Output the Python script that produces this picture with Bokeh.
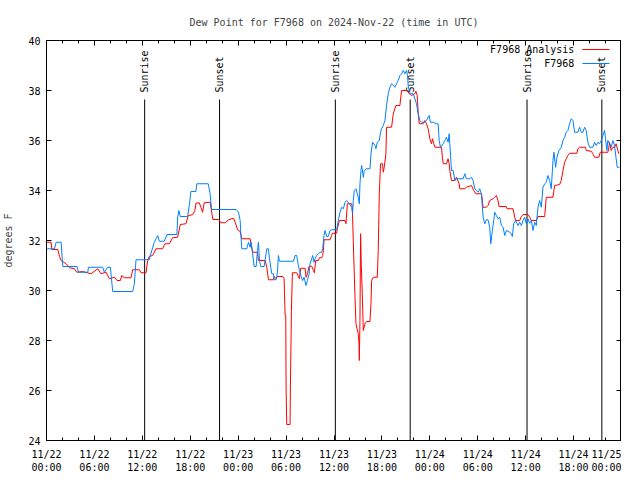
import math
from bokeh.plotting import figure
from bokeh.models import Range1d, LinearAxis, FixedTicker, Label
from bokeh.core.properties import value
from bokeh.embed import file_html
from bokeh.resources import INLINE

TITLE = "Dew Point for F7968 on 2024-Nov-22 (time in UTC)"
FONT = "DejaVu Sans Mono"

# hours since 2024-11-22 00:00 UTC
analysis_hours = [0.08, 0.58, 0.67, 1.42, 1.63, 1.83, 2.46, 2.88, 3.5, 3.79, 4.54, 5.58, 6.42, 6.83, 7.46, 7.88,
                  8.5, 8.83, 9.25, 9.42, 9.75, 10.58, 10.79, 11.63, 11.83, 12.46, 12.67, 12.88, 13.29, 13.71, 14.54,
                  14.83, 15.38, 15.79, 16.42, 16.75, 17.46, 17.75, 18.29, 18.58, 18.71, 19.13, 19.33, 19.54, 19.75,
                  20.5, 20.71, 20.83, 21.54, 21.83, 22.38, 22.79, 23.42, 23.63, 23.92, 24.25, 24.46, 25.5, 25.58,
                  25.83, 26.42, 26.54, 27.38, 27.58, 27.79, 28.42, 28.5, 28.75, 28.92, 29.58, 29.75, 29.88, 29.96,
                  30.0, 30.08, 30.5, 30.54, 30.67, 30.79, 31.33, 31.54, 31.67, 31.83, 32.38, 32.5, 32.67, 32.88,
                  33.21, 33.42, 33.54, 33.71, 34.04, 34.17, 34.46, 34.58, 34.67, 34.75, 35.5, 35.71, 35.79, 36.33,
                  36.42, 36.67, 37.38, 37.5, 37.67, 38.21, 38.29, 38.42, 38.63, 38.75, 39.04, 39.13, 39.17, 39.25,
                  39.33, 39.42, 39.54, 39.67, 39.88, 40.08, 40.5, 40.63, 40.71, 40.92, 41.42, 41.54, 41.67, 41.83,
                  42.08, 42.17, 42.29, 42.5, 42.58, 43.21, 43.42, 43.75, 44.25, 44.46, 45.17, 45.42, 45.71, 46.13,
                  46.25, 46.42, 46.54, 46.67, 47.17, 47.38, 47.58, 47.79, 48.0, 48.21, 48.33, 48.5, 48.63, 49.46,
                  49.58, 49.67, 50.08, 50.29, 50.42, 50.5, 50.71, 51.13, 51.33, 51.67, 51.75, 52.38, 52.58, 53.21,
                  53.5, 53.75, 54.46, 54.58, 54.67, 55.08, 55.29, 55.5, 55.92, 56.33, 56.54, 56.67, 57.58, 57.67,
                  58.42, 58.63, 58.75, 59.25, 59.46, 59.67, 60.29, 60.5, 60.71, 61.33, 61.54, 62.38, 62.58, 63.42,
                  63.63, 64.25, 64.46, 64.67, 64.88, 65.08, 65.29, 65.5, 66.42, 66.54, 66.75, 67.5, 67.58, 68.21,
                  68.42, 68.63, 69.17, 69.33, 70.29, 70.42, 70.5, 70.71, 70.92, 71.13, 71.33, 71.54, 71.67]
analysis_values = [31.93, 31.93, 31.64, 31.64, 31.36, 31.2, 31.07, 30.91, 30.87, 30.73, 30.76, 30.67, 30.87, 30.67,
                   30.73, 30.47, 30.53, 30.4, 30.4, 30.6, 30.51, 30.51, 30.83, 30.83, 30.71, 30.71, 31.2, 31.37,
                   31.4, 31.67, 31.67, 31.87, 31.87, 32.11, 32.13, 32.64, 32.67, 33.0, 33.03, 33.2, 33.49, 33.51,
                   33.33, 33.13, 33.51, 33.53, 33.07, 32.84, 32.84, 32.71, 32.71, 32.83, 32.89, 32.73, 32.43, 32.36,
                   32.07, 32.07, 31.89, 31.53, 31.53, 31.2, 31.2, 30.93, 30.43, 30.43, 30.56, 30.47, 30.56, 30.56,
                   30.47, 29.0, 29.0, 26.13, 24.64, 24.64, 26.13, 29.2, 30.71, 30.71, 30.56, 30.47, 30.89, 30.89,
                   30.53, 30.67, 30.97, 30.97, 30.8, 30.71, 31.2, 31.2, 31.31, 31.31, 31.4, 31.6, 32.03, 32.03, 32.2,
                   32.29, 32.29, 32.47, 32.8, 32.8, 32.67, 33.47, 33.47, 33.33, 31.93, 29.73, 28.67, 28.27, 27.87,
                   27.2, 28.8, 32.27, 31.0, 29.87, 28.4, 28.67, 28.76, 28.76, 29.47, 30.4, 30.53, 30.53, 31.6, 33.87,
                   35.07, 35.07, 34.73, 34.93, 35.47, 36.53, 36.53, 37.07, 37.4, 37.4, 38.0, 38.0, 37.87, 37.8, 37.87,
                   37.97, 37.8, 37.13, 36.67, 36.67, 36.8, 36.67, 36.47, 36.07, 35.87, 36.07, 35.87, 35.73, 35.73,
                   35.33, 35.07, 35.07, 35.27, 35.07, 34.8, 34.4, 34.4, 34.53, 34.27, 34.07, 34.07, 34.13, 34.2, 34.0,
                   33.87, 33.87, 33.6, 33.33, 33.33, 33.4, 33.6, 33.67, 33.8, 33.6, 33.36, 33.36, 33.27, 33.27, 32.93,
                   32.8, 32.8, 32.96, 33.04, 33.04, 32.93, 32.8, 32.8, 32.96, 32.96, 33.73, 33.73, 34.2, 34.24, 34.4,
                   34.8, 35.13, 35.27, 35.4, 35.49, 35.49, 35.67, 35.73, 35.73, 35.6, 35.57, 35.47, 35.33, 35.33,
                   35.53, 35.53, 35.73, 35.93, 35.6, 35.73, 35.73, 35.87, 35.6, 35.47]

station_hours = [0.08, 1.0, 1.21, 1.83, 2.04, 3.83, 4.0, 5.17, 5.25, 7.04, 7.25, 7.67, 8.0, 8.29, 10.79, 11.0, 11.21,
                 12.88, 13.0, 13.5, 13.92, 14.13, 14.75, 15.08, 16.33, 16.42, 16.58, 16.75, 17.67, 17.88, 18.08,
                 18.71, 18.83, 20.25, 20.46, 20.67, 23.75, 24.04, 24.25, 24.33, 24.46, 25.08, 25.29, 25.5, 25.63,
                 25.79, 26.0, 26.25, 26.42, 26.54, 26.67, 26.83, 27.25, 27.42, 27.58, 27.79, 27.92, 28.08, 28.21,
                 28.42, 28.5, 28.75, 28.92, 29.04, 29.17, 30.92, 31.13, 31.33, 31.54, 31.67, 31.88, 32.08, 32.25,
                 32.5, 32.67, 32.88, 33.0, 33.21, 33.33, 33.5, 33.63, 33.83, 34.04, 34.25, 34.46, 34.58, 34.75,
                 34.88, 35.08, 35.29, 35.5, 35.71, 36.33, 36.54, 36.75, 36.96, 37.17, 37.38, 37.58, 37.92, 38.21,
                 38.33, 38.42, 38.54, 38.75, 38.92, 39.04, 39.17, 39.25, 39.38, 39.46, 39.67, 39.79, 40.08, 40.5,
                 40.63, 40.83, 41.13, 41.25, 41.42, 41.67, 41.83, 41.96, 42.17, 42.38, 42.58, 42.79, 43.0, 43.21,
                 43.42, 43.63, 43.83, 44.04, 44.25, 44.46, 44.67, 44.88, 45.08, 45.21, 45.29, 45.5, 45.92, 46.13,
                 46.33, 46.54, 46.75, 46.96, 47.38, 47.58, 47.79, 47.92, 48.08, 48.42, 48.83, 49.04, 49.17, 49.33,
                 49.67, 49.88, 50.08, 50.29, 50.42, 50.5, 50.71, 50.92, 51.13, 51.33, 52.17, 52.38, 52.58, 53.0,
                 53.21, 53.42, 53.63, 53.83, 54.04, 54.25, 54.46, 54.67, 54.88, 55.08, 55.29, 55.5, 55.63, 55.83,
                 56.0, 56.13, 56.33, 56.54, 56.75, 56.96, 57.17, 57.38, 57.58, 58.0, 58.21, 58.33, 58.5, 58.75,
                 59.04, 59.25, 59.46, 59.67, 59.88, 60.08, 60.29, 60.5, 60.71, 60.92, 61.13, 61.33, 61.54, 61.75,
                 61.96, 62.17, 62.38, 62.58, 62.79, 63.0, 63.21, 63.42, 63.54, 63.75, 63.92, 64.17, 64.46, 64.67,
                 64.88, 65.08, 65.29, 65.5, 65.71, 65.92, 66.13, 66.54, 66.75, 66.96, 67.17, 67.38, 67.58, 67.79,
                 68.0, 68.42, 68.63, 68.83, 69.04, 69.25, 69.46, 69.67, 69.88, 70.0, 70.17, 70.29, 70.5, 70.71,
                 70.92, 71.13, 71.33, 71.46, 71.75]
station_values = [31.67, 31.67, 31.93, 31.93, 30.96, 30.96, 30.73, 30.73, 30.93, 30.93, 30.73, 30.93, 30.93, 29.96,
                  29.96, 30.27, 31.23, 31.23, 31.4, 31.93, 32.2, 31.97, 31.97, 32.24, 32.24, 32.93, 33.2, 32.96,
                  32.96, 33.4, 33.96, 33.96, 34.27, 34.27, 33.93, 33.24, 33.24, 33.13, 32.8, 32.27, 31.67, 31.67,
                  31.93, 31.73, 31.93, 31.53, 30.96, 30.96, 31.6, 31.93, 31.2, 30.96, 30.96, 31.33, 31.67, 31.67,
                  31.27, 30.93, 30.67, 30.67, 30.43, 30.43, 30.73, 31.4, 31.17, 31.17, 31.4, 31.4, 31.0, 30.8, 30.56,
                  30.4, 30.53, 30.2, 30.4, 30.67, 31.07, 31.27, 31.4, 31.13, 31.27, 31.4, 31.47, 31.53, 31.53, 31.67,
                  32.2, 32.4, 32.16, 32.16, 32.4, 32.43, 32.43, 32.8, 33.13, 33.33, 33.27, 33.53, 33.6, 33.47, 33.33,
                  33.07, 33.6, 34.0, 34.07, 33.87, 33.73, 33.47, 34.27, 34.8, 35.0, 34.53, 34.8, 34.87, 34.87, 35.47,
                  35.93, 35.8, 35.67, 35.93, 36.0, 36.33, 36.47, 36.6, 36.8, 37.4, 37.87, 38.13, 38.27, 38.2, 38.13,
                  38.27, 38.4, 38.6, 38.67, 38.8, 38.67, 38.8, 38.6, 38.2, 37.87, 37.87, 37.67, 37.47, 37.07, 36.8,
                  36.73, 36.73, 36.8, 36.93, 37.0, 36.73, 36.73, 36.67, 36.67, 36.0, 35.73, 35.87, 36.0, 36.13, 35.93,
                  36.27, 35.87, 34.8, 34.8, 34.4, 34.47, 34.47, 34.67, 34.47, 34.47, 34.53, 34.4, 34.07, 34.0, 33.93,
                  34.07, 33.87, 32.93, 32.67, 32.83, 32.83, 32.53, 31.87, 32.4, 32.8, 33.13, 33.0, 32.87, 32.93, 32.6,
                  32.53, 32.2, 32.4, 32.33, 32.27, 32.16, 32.67, 32.8, 32.6, 32.73, 32.6, 32.8, 32.93, 32.67, 32.87,
                  32.69, 32.8, 32.4, 32.73, 32.6, 33.33, 33.6, 33.33, 34.13, 34.27, 34.33, 34.6, 34.4, 34.07, 35.2,
                  35.53, 34.93, 35.33, 35.6, 35.73, 36.0, 36.13, 36.33, 36.4, 36.67, 36.87, 36.8, 36.33, 36.33, 36.53,
                  36.33, 36.33, 36.53, 36.4, 35.93, 35.73, 35.73, 35.93, 35.8, 35.93, 35.87, 36.0, 36.2, 36.4, 36.07,
                  35.6, 36.0, 35.87, 35.73, 36.0, 35.8, 35.27, 34.93, 34.93]

sun_hours = [12.29, 21.67, 36.17, 45.54, 60.17, 69.54]
sun_labels = ["Sunrise", "Sunset", "Sunrise", "Sunset", "Sunrise", "Sunset"]
sun_line_top = 37.64
sun_label_y = 37.92

x_ticks = [0, 6, 12, 18, 24, 30, 36, 42, 48, 54, 60, 66, 72]
x_minor = list(range(0, 73, 2))
x_tick_labels = ["11/22\n00:00", "11/22\n06:00", "11/22\n12:00", "11/22\n18:00",
                 "11/23\n00:00", "11/23\n06:00", "11/23\n12:00", "11/23\n18:00",
                 "11/24\n00:00", "11/24\n06:00", "11/24\n12:00", "11/24\n18:00", "11/25\n00:00"]
y_ticks = [24, 26, 28, 30, 32, 34, 36, 38, 40]

legend_labels = ["F7968 Analysis", "F7968"]
legend_colors = ["#ff0000", "#0080ff"]
# legend placement (data units of this fixed-range chart)
legend_text_x = 66.1
legend_line_x0 = 67.1
legend_line_x1 = 70.5
legend_rows_y = [39.64, 39.08]

p = figure(frame_width=575, frame_height=400, x_range=Range1d(0, 72), y_range=Range1d(24, 40),
           output_backend="svg", toolbar_location=None, title=TITLE,
           min_border_left=0, min_border_right=0, min_border_top=40, min_border_bottom=0)
p.title.align = "center"
p.title.text_font = FONT
p.title.text_font_size = "10px"
p.title.text_font_style = "normal"
p.title.standoff = 25
p.xgrid.visible = False
p.ygrid.visible = False
p.outline_line_color = "black"
p.outline_line_width = 1
p.background_fill_color = "white"
p.border_fill_color = "white"


def style_axis(ax, show_labels=True):
    ax.major_tick_in = 5
    ax.major_tick_out = 0
    ax.minor_tick_in = 3
    ax.minor_tick_out = 0
    ax.axis_line_color = "black"
    ax.major_tick_line_color = "black"
    ax.minor_tick_line_color = "black"
    ax.major_label_text_font = FONT
    ax.major_label_text_color = "black"
    ax.axis_label_text_font = FONT
    ax.axis_label_text_font_size = "10px"
    ax.axis_label_text_font_style = "normal"
    if show_labels:
        ax.major_label_text_font_size = "10px"
    else:
        ax.major_label_text_font_size = "1px"
        ax.major_label_text_color = None
        ax.major_label_standoff = 0


xax = p.xaxis[0]
xax.ticker = FixedTicker(ticks=x_ticks, minor_ticks=x_minor)
xax.major_label_overrides = {t: lab for t, lab in zip(x_ticks, x_tick_labels)}
style_axis(xax)
xax.major_label_standoff = 8

yax = p.yaxis[0]
yax.ticker = FixedTicker(ticks=y_ticks, minor_ticks=[])
style_axis(yax)
yax.major_label_standoff = 6
yax.axis_label = "degrees F"
yax.axis_label_standoff = 11

top_ax = LinearAxis(ticker=FixedTicker(ticks=x_ticks, minor_ticks=x_minor))
style_axis(top_ax, show_labels=False)
p.add_layout(top_ax, "above")
right_ax = LinearAxis(ticker=FixedTicker(ticks=y_ticks, minor_ticks=[]))
style_axis(right_ax, show_labels=False)
p.add_layout(right_ax, "right")

p.segment(x0=sun_hours, y0=24, x1=sun_hours, y1=sun_line_top, line_color="black", line_width=1)
p.text(x=sun_hours, y=sun_label_y, text=sun_labels, angle=math.pi / 2, text_align="left",
       text_baseline="middle", text_font=value(FONT), text_font_size="10px", text_color="black")

p.line(analysis_hours, analysis_values, line_color=legend_colors[0], line_width=1)
p.line(station_hours, station_values, line_color=legend_colors[1], line_width=1)

# gnuplot-style key: label right-aligned, sample line to its right
for lab, col, ly in zip(legend_labels, legend_colors, legend_rows_y):
    p.add_layout(Label(x=legend_text_x, y=ly, text=lab, text_align="right", text_baseline="middle",
                       text_font=FONT, text_font_size="10px", text_color="black"))
p.segment(x0=[legend_line_x0] * 2, y0=legend_rows_y, x1=[legend_line_x1] * 2, y1=legend_rows_y,
          line_color=legend_colors, line_width=1)

open("out.html", "w").write(file_html(p, INLINE))
